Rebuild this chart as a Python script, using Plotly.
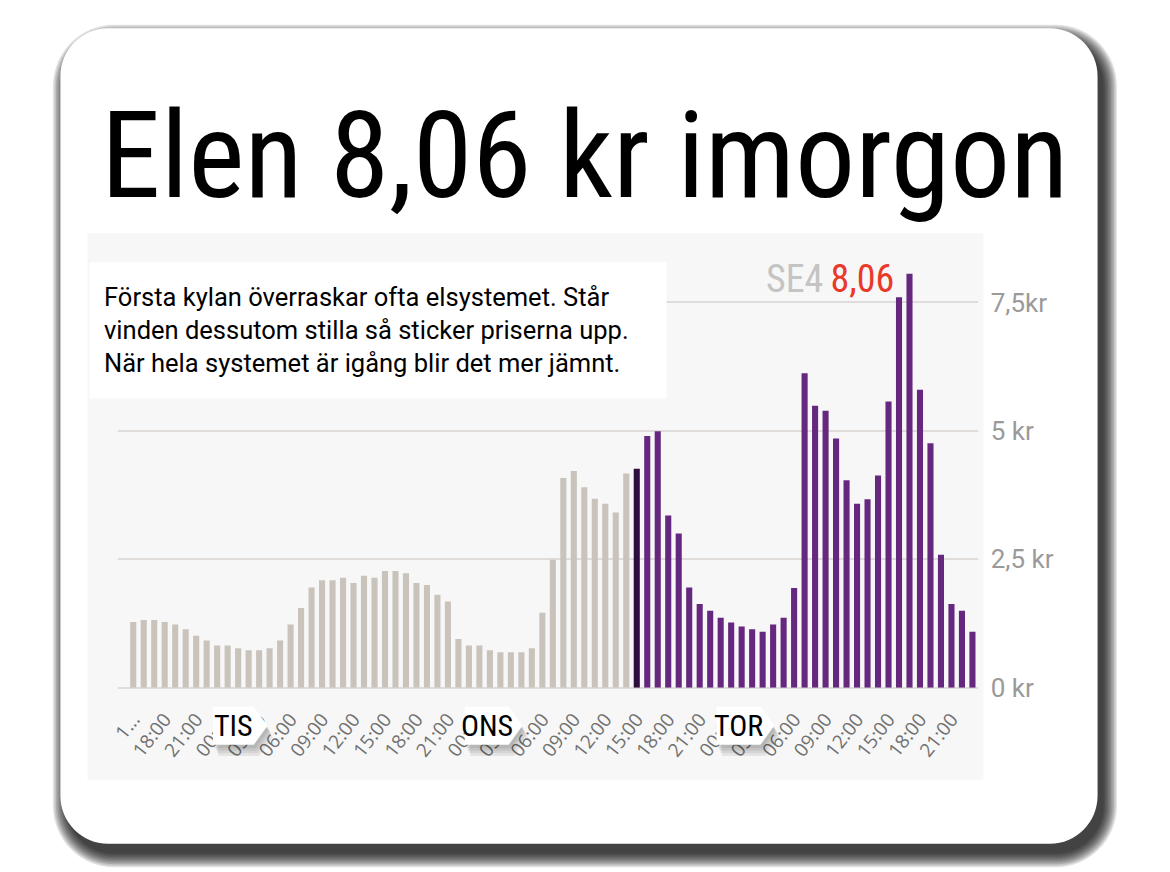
import plotly.graph_objects as go

W, H = 1170, 872
# the page adds an 8px body margin and the screenshot squeezes the taller page back to 872px,
# so layout positions below are given in screenshot pixels and converted
PAGE_MARGIN = 8
Y_SQUEEZE = (H + 2 * PAGE_MARGIN) / H

# SE4 spot price per hour (kr/kWh), from Monday 15:00 to Thursday 23:00
mon_prices = [1.28, 1.32, 1.32, 1.28, 1.23, 1.14, 1.01, 0.92, 0.82]
tue_prices = [0.82, 0.77, 0.73, 0.73, 0.77, 0.92, 1.23, 1.55, 1.95, 2.09, 2.09, 2.14,
              2.04, 2.18, 2.14, 2.27, 2.27, 2.23, 2.04, 2.00, 1.81, 1.68, 0.95, 0.82]
wed_past_prices = [0.82, 0.73, 0.69, 0.69, 0.69, 0.77, 1.46, 2.49, 4.08, 4.22, 3.90, 3.68,
                   3.58, 3.41, 4.17]
now_price = [4.26]  # Wednesday 15:00
wed_coming_prices = [4.90, 4.99, 3.35, 3.00, 1.95, 1.63, 1.50, 1.36]
thu_prices = [1.27, 1.19, 1.14, 1.09, 1.23, 1.36, 1.94, 6.12, 5.49, 5.39, 4.85, 4.04,
              3.58, 3.67, 4.13, 5.57, 7.60, 8.06, 5.80, 4.76, 2.59, 1.63, 1.50, 1.09]

tick_labels = ["1...", "18:00", "21:00",
               "00:00", "03:00", "06:00", "09:00", "12:00", "15:00", "18:00", "21:00",
               "00:00", "03:00", "06:00", "09:00", "12:00", "15:00", "18:00", "21:00",
               "00:00", "03:00", "06:00", "09:00", "12:00", "15:00", "18:00", "21:00"]
y_ticks = [0, 2.5, 5, 7.5]
y_tick_labels = ["0 kr", "2,5 kr", "5 kr", "7,5kr"]
day_names = ["TIS", "ONS", "TOR"]
day_widths = [3.9, 4.2, 4.2]

title = "Elen 8,06 kr imorgon"
blurb = ("Första kylan överraskar ofta elsystemet. Står<br>"
         "vinden dessutom stilla så sticker priserna upp.<br>"
         "När hela systemet är igång blir det mer jämnt.")

GREY = "#c9c3bc"
PURPLE = "#66277f"
NOW = "#2d0e3e"
COND = "Roboto Condensed, Roboto, Liberation Sans, sans-serif"

past = mon_prices + tue_prices + wed_past_prices
coming = wed_coming_prices + thu_prices
prices = past + now_price + coming
hours = list(range(len(prices)))
n_past = len(past)
day_starts = [len(mon_prices), len(mon_prices) + len(tue_prices),
              len(mon_prices) + len(tue_prices) + len(wed_past_prices) + 1 + len(wed_coming_prices)]
peak = max(prices)
peak_at = prices.index(peak)


def fx(px):
    return (px - PAGE_MARGIN) / W


def fy(py):
    return 1 - (py * Y_SQUEEZE - PAGE_MARGIN) / H


def rounded(x0, y0, x1, y1, r):
    # rounded rectangle in screen pixels -> svg path in paper coords
    k = 0.5523 * r
    pts = [("M", [(x0 + r, y0)]), ("L", [(x1 - r, y0)]),
           ("C", [(x1 - r + k, y0), (x1, y0 + r - k), (x1, y0 + r)]), ("L", [(x1, y1 - r)]),
           ("C", [(x1, y1 - r + k), (x1 - r + k, y1), (x1 - r, y1)]), ("L", [(x0 + r, y1)]),
           ("C", [(x0 + r - k, y1), (x0, y1 - r + k), (x0, y1 - r)]), ("L", [(x0, y0 + r)]),
           ("C", [(x0, y0 + r - k), (x0 + r - k, y0), (x0 + r, y0)])]
    out = ""
    for cmd, ps in pts:
        out += cmd + " ".join(f"{fx(a):.5f},{fy(b):.5f}" for a, b in ps)
    return out + "Z"


fig = go.Figure()
fig.add_trace(go.Bar(x=hours[:n_past], y=past, marker_color=GREY, marker_line_width=0))
fig.add_trace(go.Bar(x=hours[n_past:n_past + 1], y=now_price, marker_color=NOW, marker_line_width=0))
fig.add_trace(go.Bar(x=hours[n_past + 1:], y=coming, marker_color=PURPLE, marker_line_width=0))

shapes = []
# card shadow + card
for i in range(10):
    e = i * 1.5
    shapes.append(dict(type="path", xref="paper", yref="paper", layer="below",
                       path=rounded(52.7 + 6 - e, 28 + 10 - e, 1097 + 6 + e, 843 + 10 + e, 48 + e),
                       fillcolor="rgba(0,0,0,0.12)", line_width=0))
shapes.append(dict(type="path", xref="paper", yref="paper", layer="below",
                   path=rounded(52.7, 28, 1097, 843, 48), fillcolor="white", line_width=0))
# light chart panel
shapes.append(dict(type="rect", xref="paper", yref="paper", layer="below",
                   x0=fx(80), x1=fx(982), y0=fy(779), y1=fy(233),
                   fillcolor="#f7f7f7", line_width=0))
# text box
shapes.append(dict(type="rect", xref="paper", yref="paper", layer="above",
                   x0=fx(82), x1=fx(663), y0=fy(398), y1=fy(262),
                   fillcolor="white", line_width=0))

# day tags on the x axis
ty0, ty1 = fy(744), fy(706)
tmid = (ty0 + ty1) / 2
for name, d0, w in zip(day_names, day_starts, day_widths):
    left = d0 - 1.4
    right = left + w
    tip = right + 1.3
    for s in range(4):
        ox, oy = 0.15 + s * 0.12, 0.004 + s * 0.003
        shapes.append(dict(type="path", xref="x", yref="paper", layer="above",
                           path=f"M{left + ox},{ty1 - oy} L{right + ox},{ty1 - oy} L{tip + ox},{tmid - oy} "
                                f"L{right + ox},{ty0 - oy} L{left + ox},{ty0 - oy} Z",
                           fillcolor="rgba(0,0,0,0.07)", line_width=0))
    shapes.append(dict(type="path", xref="x", yref="paper", layer="above",
                       path=f"M{left},{ty1} L{right},{ty1} L{tip},{tmid} L{right},{ty0} L{left},{ty0} Z",
                       fillcolor="white", line_width=0))
    fig.add_annotation(x=(left + right) / 2, y=tmid, xref="x", yref="paper", text=name,
                       xanchor="center", yanchor="middle", showarrow=False,
                       font=dict(family=COND, size=30, color="black"))

fig.add_annotation(x=fx(580), y=fy(156), xref="paper", yref="paper", text=title, showarrow=False,
                   xanchor="center", yanchor="middle",
                   font=dict(family=COND, size=120, color="black"))
fig.add_annotation(x=fx(95), y=fy(330), xref="paper", yref="paper", text=blurb, showarrow=False,
                   xanchor="left", yanchor="middle", align="left",
                   font=dict(family="Roboto, sans-serif", size=25.5, color="black"))
fig.add_annotation(x=peak_at - 1.3, y=peak, xref="x", yref="y", xanchor="right", yanchor="middle",
                   yshift=-5,
                   text=f"<span style='color:#c4c4c4'>SE4</span>\u2009{peak:.2f}".replace(".", ","),
                   showarrow=False, font=dict(family=COND, size=38, color="#e8392b"))

fig.update_layout(
    width=W, height=H,
    margin=dict(l=0, r=0, t=0, b=0),
    paper_bgcolor="white",
    plot_bgcolor="rgba(0,0,0,0)",
    showlegend=False,
    bargap=0.42,
    shapes=shapes,
    xaxis=dict(domain=[fx(110.2), fx(976.3)], range=[-1.5, len(prices) - 0.5],
               tickvals=hours[::3], ticktext=tick_labels, tickangle=-52, ticklabelstandoff=16,
               tickfont=dict(family="Open Sans, Noto Sans, sans-serif", size=19, color="#707070"),
               showgrid=False, zeroline=False, showline=False, ticks=""),
    yaxis=dict(domain=[fy(687), fy(250.7)], range=[0, 8.5], side="right",
               tickvals=y_ticks, ticktext=y_tick_labels, ticks="", ticklabelstandoff=12,
               tickfont=dict(family="Roboto, sans-serif", size=26, color="#9a9a9a"),
               showgrid=True, gridcolor="#dfdcd9", gridwidth=2,
               zeroline=True, zerolinecolor="#dfdcd9", zerolinewidth=2),
)

fig.write_html("out.html")
